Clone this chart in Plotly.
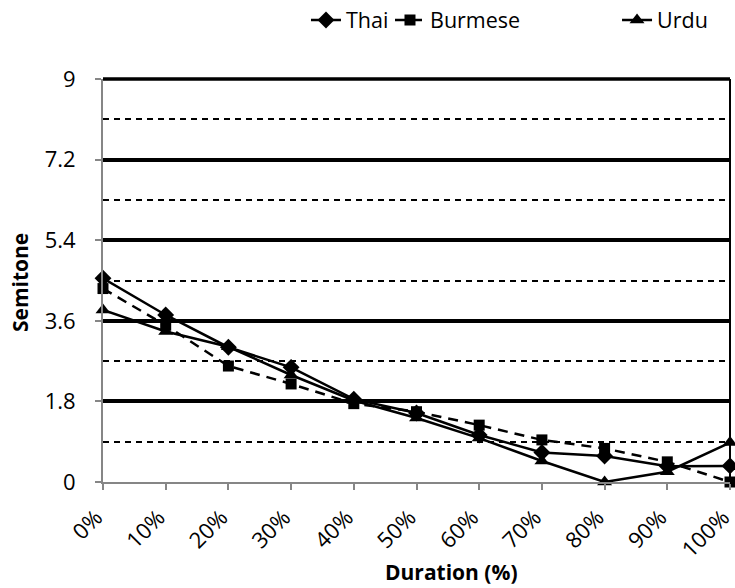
import plotly.graph_objects as go

# Normalised duration (percent of syllable) and mean pitch in semitones
duration = [0, 10, 20, 30, 40, 50, 60, 70, 80, 90, 100]
duration_labels = ["0%", "10%", "20%", "30%", "40%", "50%", "60%", "70%", "80%", "90%", "100%"]

thai = [4.55, 3.73, 3.01, 2.56, 1.85, 1.54, 1.05, 0.66, 0.58, 0.35, 0.36]
burmese = [4.32, 3.50, 2.59, 2.19, 1.75, 1.57, 1.27, 0.94, 0.75, 0.45, 0.0]
urdu = [3.84, 3.36, 3.02, 2.39, 1.82, 1.43, 0.98, 0.47, 0.0, 0.23, 0.88]

y_major = [0, 1.8, 3.6, 5.4, 7.2, 9]
y_major_labels = ["0", "1.8", "3.6", "5.4", "7.2", "9"]
y_minor = [0.9, 2.7, 4.5, 6.3, 8.1]

FONT = "Open Sans"
AXIS_GREY = "#868686"
TICK_SIZE = 22
TITLE_SIZE = 21

fig = go.Figure()

fig.add_trace(go.Scatter(
    x=duration, y=thai, name="Thai", mode="lines+markers",
    line=dict(color="black", width=2.5),
    marker=dict(symbol="diamond", size=13, color="black"),
    cliponaxis=False, legend="legend",
))
fig.add_trace(go.Scatter(
    x=duration, y=burmese, name="Burmese", mode="lines+markers",
    line=dict(color="black", width=2.5, dash="10px,7px"),
    marker=dict(symbol="square", size=11, color="black"),
    cliponaxis=False, legend="legend2",
))
fig.add_trace(go.Scatter(
    x=duration, y=urdu, name="Urdu", mode="lines+markers",
    line=dict(color="black", width=2.5),
    marker=dict(symbol="triangle-up", size=13, color="black"),
    cliponaxis=False, legend="legend3",
))

# Legends sit in the top margin, placed in container coordinates so they
# do not push the plot area down
legend_common = dict(
    orientation="h", xref="container", yref="container",
    yanchor="middle", y=0.966, xanchor="left",
    font=dict(family=FONT, size=21.5, color="black"),
    bgcolor="rgba(0,0,0,0)", borderwidth=0,
)

fig.update_layout(
    width=735, height=588,
    margin=dict(l=103, r=5, t=79, b=106, pad=0),
    paper_bgcolor="white", plot_bgcolor="white",
    font=dict(family=FONT, size=20, color="black"),
    showlegend=True,
    legend=dict(x=0.4163, **legend_common),
    legend2=dict(x=0.5306, **legend_common),
    legend3=dict(x=0.8395, **legend_common),
    xaxis=dict(
        range=[0, 100], tickvals=duration, ticktext=duration_labels,
        tickangle=-45, showgrid=False, zeroline=False,
        showline=True, linecolor=AXIS_GREY, linewidth=2,
        ticks="outside", ticklen=6, tickwidth=2, tickcolor=AXIS_GREY,
        tickfont=dict(family=FONT, size=TICK_SIZE, color="black"),
        ticklabeloverflow="allow", ticklabelstandoff=6, ticklabelshift=-7,
        automargin=False,
    ),
    yaxis=dict(
        range=[0, 9], tickvals=y_major, ticktext=y_major_labels,
        showgrid=True, gridcolor="black", gridwidth=3.5, zeroline=False,
        showline=True, linecolor=AXIS_GREY, linewidth=2,
        ticks="outside", ticklen=6, tickwidth=2, tickcolor=AXIS_GREY,
        tickfont=dict(family=FONT, size=TICK_SIZE, color="black"),
        ticklabelstandoff=15,
        minor=dict(tickvals=y_minor, showgrid=True, gridcolor="black",
                   gridwidth=1.5, griddash="6px,5px", ticks=""),
        automargin=False,
    ),
    annotations=[
        dict(text="<b>Duration (%)</b>", xref="paper", yref="paper",
             x=0.5566, y=-0.2233, xanchor="center", yanchor="middle",
             showarrow=False, font=dict(family=FONT, size=TITLE_SIZE, color="black")),
        dict(text="<b>Semitone</b>", xref="paper", yref="paper",
             x=-0.1324, y=0.496, xanchor="center", yanchor="middle", textangle=-90,
             showarrow=False, font=dict(family=FONT, size=TITLE_SIZE, color="black")),
    ],
)

# Frame of the plot area: heavy top edge (plotly skips the gridline at the
# range end) and a thin right-hand edge
fig.add_shape(type="line", xref="paper", yref="paper", x0=0, x1=1, y0=1, y1=1,
              line=dict(color="black", width=3.5), layer="below")
fig.add_shape(type="line", xref="paper", yref="paper", x0=1, x1=1, y0=0, y1=1,
              line=dict(color="black", width=2), layer="below")

fig.write_html("out.html")
